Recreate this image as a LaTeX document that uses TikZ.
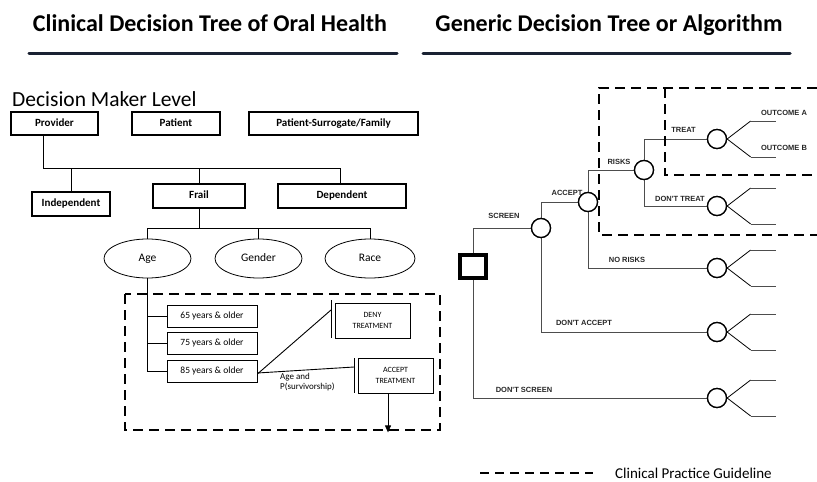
\documentclass[tikz,border=0pt]{standalone}
\usepackage{fontspec}
\setmainfont{Carlito}
\newfontfamily\arialfont{Liberation Sans}
\usetikzlibrary{shapes.geometric,arrows.meta}

\definecolor{rule}{HTML}{1A2233}
\definecolor{branch}{HTML}{4D4D4D}

\begin{document}
\begin{tikzpicture}[x=1pt,y=-1pt,
  heading/.style={font=\fontsize{24}{28}\selectfont\bfseries, inner sep=0pt, anchor=base},
  lvlbox/.style={draw, line width=1.5pt, minimum height=23pt, inner sep=0pt,
    text height=7.5pt, text depth=2.2pt,
    font=\fontsize{11}{13}\selectfont\bfseries},
  attr/.style={ellipse, draw, line width=0.8pt, minimum width=87pt,
    minimum height=39pt, inner sep=0pt, text height=8pt, text depth=2.5pt,
    font=\fontsize{11.5}{13}\selectfont},
  agebox/.style={draw, line width=0.8pt, minimum width=90pt, minimum height=22pt,
    inner sep=0pt, text height=6.5pt, text depth=2pt, font=\fontsize{9.5}{11}\selectfont},
  actbox/.style={draw, line width=0.8pt, minimum width=75pt, minimum height=35pt,
    inner sep=0pt, align=center, font=\fontsize{8}{11}\selectfont},
  cpg/.style={line width=2.3pt, dash pattern=on 10pt off 6pt},
  conn/.style={line width=0.9pt},
  chance/.style={circle, draw, line width=1.3pt, minimum size=19pt, inner sep=0pt, fill=white},
  choice/.style={draw, line width=2.6pt, minimum width=24pt, minimum height=21pt, inner sep=0pt},
  twig/.style={draw=branch, line width=0.9pt},
  tag/.style={font=\arialfont\fontsize{7.5}{9}\selectfont\bfseries, text=black!85, inner sep=0pt}
]
\useasboundingbox (0,0) rectangle (817,482);

% ---- headings with shadowed rules ----
\node[heading] (hl) at (210,31) {Clinical Decision Tree of Oral Health};
\node[heading] (hr) at (609,31) {Generic Decision Tree or Algorithm};
\coordinate (rl1) at (29,53);  \coordinate (rl2) at (397,53);
\coordinate (rr1) at (423,53); \coordinate (rr2) at (790,53);
\draw[line width=3pt, black!35, line cap=round, shift={(1.5,2)}] (rl1) -- (rl2);
\draw[line width=3pt, black!35, line cap=round, shift={(1.5,2)}] (rr1) -- (rr2);
\draw[line width=3pt, rule, line cap=round] (rl1) -- (rl2);
\draw[line width=3pt, rule, line cap=round] (rr1) -- (rr2);

% ---- left: decision maker level ----
\node[anchor=base west, inner sep=0pt, font=\fontsize{21.5}{24}\selectfont] (dml) at (12,106) {Decision Maker Level};

\node[lvlbox, minimum width=87pt]  (prov) at (54.5,123.5) {Provider};
\node[lvlbox, minimum width=88pt]  (pat)  at (176,123.5) {Patient};
\node[lvlbox, minimum width=169pt] (psf)  at (333.5,123.5) {Patient-Surrogate/Family};

\node[lvlbox, minimum width=78pt, minimum height=24pt] (indep) at (71,204) {Independent};
\node[lvlbox, minimum width=92pt, minimum height=24pt] (frail) at (199,196) {Frail};
\node[lvlbox, minimum width=128pt, minimum height=24pt] (dep) at (342,196) {Dependent};

\coordinate (busL) at (43,168);
\coordinate (busR) at (340,168);
\draw[conn] (prov.south -| busL) -- (busL) -- (busR);
\draw[conn] (indep.north |- busL) -- (indep.north);
\draw[conn] (frail.north |- busL) -- (frail.north);
\draw[conn] (busR) -- (busR |- dep.north);

\node[attr] (age)    at (147.5,258.5) {Age};
\node[attr] (gender) at (258.5,258.5) {Gender};
\node[attr, minimum width=90pt] (race) at (370,258.5) {Race};

\coordinate (ebus) at (198,228);
\draw[conn] (frail.south) -- (frail.south |- ebus);
\draw[conn] (age.north |- ebus) -- (race.north |- ebus);
\draw[conn] (age.north |- ebus) -- (age.north);
\draw[conn] (gender.north |- ebus) -- (gender.north);
\draw[conn] (race.north |- ebus) -- (race.north);

% clinical practice guideline region
\draw[cpg] (125,294) rectangle (440,430);

\node[agebox] (y65) at (212,316) {65 years \& older};
\node[agebox] (y75) at (212,343.5) {75 years \& older};
\node[agebox] (y85) at (212,371) {85 years \& older};
\draw[conn] (age.south) -- (age.south |- y85.west) -- (y85.west);
\draw[conn] (age.south |- y65.west) -- (y65.west);
\draw[conn] (age.south |- y75.west) -- (y75.west);

\node[actbox] (deny) at (372.5,320.5) {DENY\\TREATMENT};
\node[actbox] (acc)  at (395.5,375.5) {ACCEPT\\TREATMENT};
\coordinate (dtop) at (331,300); \coordinate (dbot) at (331,338);
\coordinate (dhit) at (331,310);
\coordinate (atop) at (354,358); \coordinate (abot) at (354,393);
\coordinate (ahit) at (354,367);
\draw[conn] (dtop) -- (dbot);
\draw[conn] (atop) -- (abot);
\draw[conn] ([yshift=-3pt]y85.east) -- (dhit);
\draw[conn] ([yshift=-2pt]y85.east) -- (ahit);
\node[anchor=north west, inner sep=0pt, align=left, font=\fontsize{9}{10.5}\selectfont] (surv)
  at (280,373) {Age and\\P(survivorship)};
\draw[conn, -{Triangle[length=7pt,width=6pt]}] ([xshift=-7.5pt]acc.south) -- ++(0,39);

% ---- right: generic decision tree ----
\node[choice] (root) at (473,266.5) {};
\node[chance] (screen)  at (541,228) {};
\node[chance] (accept)  at (588,202) {};
\node[chance] (risks)   at (644,170) {};
\node[chance] (treat)   at (717,139) {};
\node[chance] (dtreat)  at (717,206) {};
\node[chance] (norisk)  at (717,268) {};
\node[chance] (daccept) at (717,332) {};
\node[chance] (dscreen) at (717,398) {};

\draw[twig] (root.north) |- (screen.west);
\draw[twig] (root.south) |- (dscreen.west);
\draw[twig] (screen.north) |- (accept.west);
\draw[twig] (screen.south) |- (daccept.west);
\draw[twig] (accept.north) |- (risks.west);
\draw[twig] (accept.south) |- (norisk.west);
\draw[twig] (risks.north) |- (treat.west);
\draw[twig] (risks.south) |- (dtreat.west);
% node outlines kept above the branch lines
\foreach \n in {screen,accept,risks,treat,dtreat,norisk,daccept,dscreen}{
  \draw[line width=1.3pt, fill=white] (\n) circle (9.5);
}
\draw[line width=2.6pt] (root.north west) rectangle (root.south east);

% outcome fans
\foreach \n in {treat,dtreat,norisk,daccept,dscreen}{
  \draw[line width=0.8pt] (\n.east) -- ++(23.5,-18) coordinate (\n-up);
  \draw[line width=0.8pt] (\n.east) -- ++(23.5,18) coordinate (\n-dn);
  \draw[twig] (\n-up) -- ++(25,0);
  \draw[twig] (\n-dn) -- ++(25,0);
}

\node[tag] (lscreen)  at (504,216) {SCREEN};
\node[tag] (laccept)  at (567,193) {ACCEPT};
\node[tag] (lrisks)   at (619,162) {RISKS};
\node[tag] (ltreat)   at (683.5,130) {TREAT};
\node[tag] (ldtreat)  at (680,199) {DON'T TREAT};
\node[tag] (lnorisk)  at (627,260) {NO RISKS};
\node[tag] (ldaccept) at (584,323) {DON'T ACCEPT};
\node[tag] (ldscreen) at (524,390) {DON'T SCREEN};
\node[tag] (loa) at (784,113) {OUTCOME A};
\node[tag] (lob) at (784,148) {OUTCOME B};

% guideline regions
\draw[cpg] (817,88) -- (599,88) -- (599,235) -- (817,235);
\draw[cpg] (665,88) -- (665,175) -- (817,175);

% ---- legend ----
\coordinate (lg1) at (480,473);
\coordinate (lg2) at (593,473);
\draw[line width=2pt, dash pattern=on 9pt off 6pt] (lg1) -- (lg2);
\node[anchor=west, inner sep=0pt, font=\fontsize{15}{18}\selectfont] (lgt) at (615,473) {Clinical Practice Guideline};
\end{tikzpicture}
\end{document}
